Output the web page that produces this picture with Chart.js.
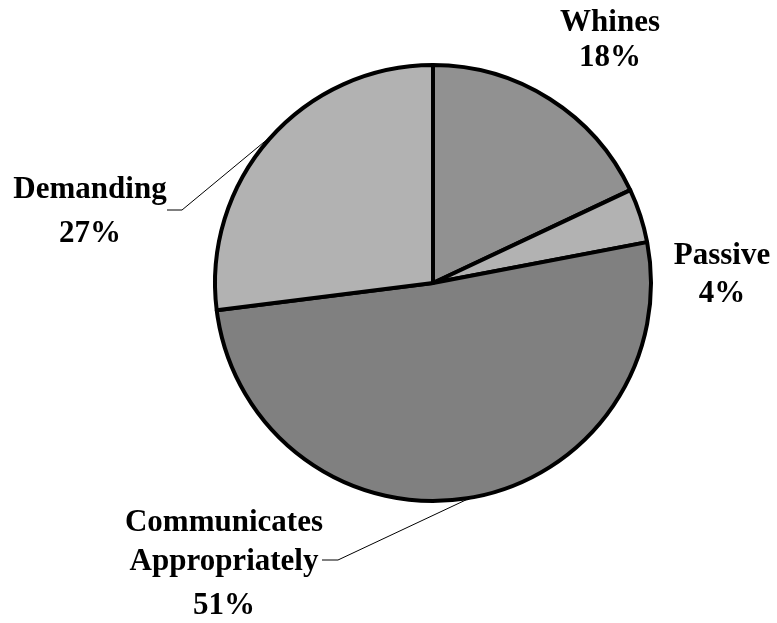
<!DOCTYPE html>
<html lang="en">
<head>
    <meta charset="UTF-8">
    <title>Communication style</title>
    <script src="https://cdn.jsdelivr.net/npm/chart.js"></script>
    <style>
        body { margin: 0; background: #fff; }
        .box { width: 777px; height: 623px; position: relative; }
    </style>
</head>
<body>
    <div class="box">
        <canvas id="pie"></canvas>
    </div>

<script>
    // slices, clockwise from 12 o'clock
    var categorias = ['Whines', 'Passive', 'Communicates Appropriately', 'Demanding'];
    var linhas = [['Whines'], ['Passive'], ['Communicates', 'Appropriately'], ['Demanding']];
    var percentuais = [18, 4, 51, 27];
    var cores = ['#919191', '#b2b2b2', '#808080', '#b2b2b2'];

    // where each label block sits: centre x, baseline of each line, and an optional leader
    var rotulos = [
        { x: 610, base: [31, 66] },
        { x: 722, base: [264, 302] },
        { x: 224, base: [531, 570, 614], leader: { x1: 322, x2: 338, y: 560 } },
        { x: 90, base: [198, 242], leader: { x1: 167, x2: 182, y: 210 } }
    ];

    const rotulosPlugin = {
        id: 'rotulos',
        afterDraw(chart) {
            const ctx = chart.ctx;
            const arcs = chart.getDatasetMeta(0).data;
            ctx.save();
            ctx.fillStyle = '#000';
            ctx.strokeStyle = '#000';
            ctx.font = 'bold 31px "Liberation Serif", "Times New Roman", serif';
            ctx.textAlign = 'center';
            ctx.textBaseline = 'alphabetic';

            for (var i = 0; i < arcs.length; i++) {
                var arc = arcs[i];
                var r = rotulos[i];
                var txt = linhas[i].concat([percentuais[i] + '%']);
                for (var k = 0; k < txt.length; k++) {
                    ctx.fillText(txt[k], r.x, r.base[k]);
                }

                if (r.leader) {
                    // leader goes from the middle of the slice edge to the label
                    var meio = (arc.startAngle + arc.endAngle) / 2;
                    var ex = arc.x + Math.cos(meio) * (arc.outerRadius + 1);
                    var ey = arc.y + Math.sin(meio) * (arc.outerRadius + 1);
                    ctx.lineWidth = 1;
                    ctx.beginPath();
                    ctx.moveTo(ex, ey);
                    ctx.lineTo(r.leader.x2, r.leader.y);
                    ctx.lineTo(r.leader.x1, r.leader.y);
                    ctx.stroke();
                }
            }
            ctx.restore();
        }
    };

    const config = {
        type: 'pie',
        data: {
            labels: categorias,
            datasets: [{
                data: percentuais,
                backgroundColor: cores,
                borderColor: '#000',
                borderWidth: 4,
                borderJoinStyle: 'round'
            }]
        },
        options: {
            responsive: true,
            maintainAspectRatio: false,
            animation: false,
            layout: {
                padding: { left: 213, right: 124, top: 63, bottom: 120 }
            },
            plugins: {
                legend: { display: false },
                tooltip: { enabled: false }
            }
        },
        plugins: [rotulosPlugin]
    };

    let myPie = new Chart(document.getElementById('pie'), config);
</script>
</body>
</html>
